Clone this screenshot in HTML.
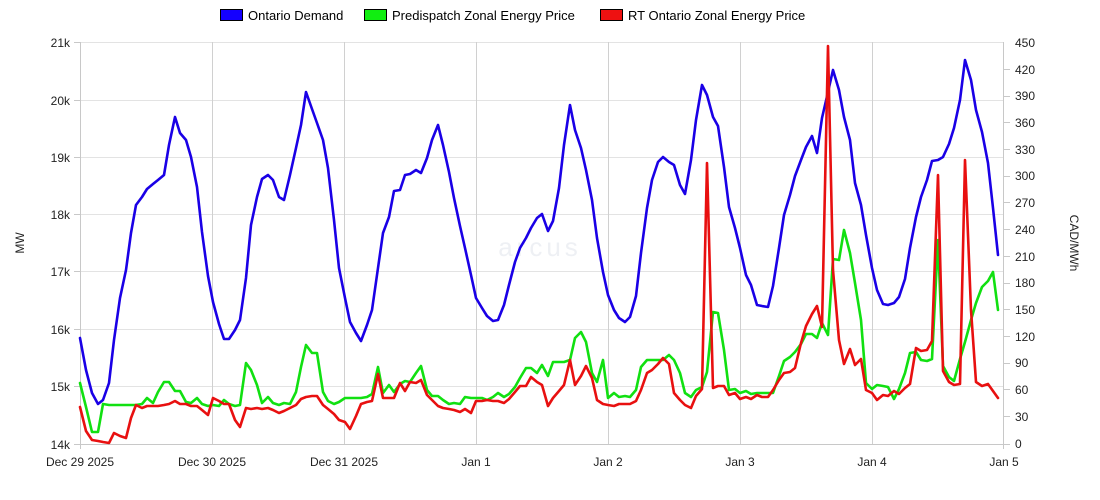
<!DOCTYPE html>
<html><head><meta charset="utf-8"><style>
html,body{margin:0;padding:0;background:#fff;}
svg{display:block;font-family:"Liberation Sans",Arial,sans-serif;}
</style></head><body>
<svg width="1100" height="500" viewBox="0 0 1100 500" xmlns="http://www.w3.org/2000/svg">
<rect width="1100" height="500" fill="#fff"/>
<!-- legend -->
<rect x="220.5" y="9.5" width="22" height="11" fill="#1400ff" stroke="#000" stroke-width="1"/>
<text x="248" y="20" font-size="13" fill="#000">Ontario Demand</text>
<rect x="364.5" y="9.5" width="22" height="11" fill="#11ee11" stroke="#000" stroke-width="1"/>
<text x="392" y="20" font-size="13" fill="#000">Predispatch Zonal Energy Price</text>
<rect x="600.5" y="9.5" width="22" height="11" fill="#ee1111" stroke="#000" stroke-width="1"/>
<text x="628" y="20" font-size="13" fill="#000">RT Ontario Zonal Energy Price</text>
<!-- grid -->
<g stroke="#e3e3e3" stroke-width="1">
<line x1="80" x2="1004" y1="42.5" y2="42.5"/>
<line x1="80" x2="1004" y1="100.5" y2="100.5"/>
<line x1="80" x2="1004" y1="157.5" y2="157.5"/>
<line x1="80" x2="1004" y1="214.5" y2="214.5"/>
<line x1="80" x2="1004" y1="271.5" y2="271.5"/>
<line x1="80" x2="1004" y1="329.5" y2="329.5"/>
<line x1="80" x2="1004" y1="386.5" y2="386.5"/>
</g>
<g stroke="#d0d0d0" stroke-width="1">
<line x1="212.5" x2="212.5" y1="42" y2="444"/>
<line x1="344.5" x2="344.5" y1="42" y2="444"/>
<line x1="476.5" x2="476.5" y1="42" y2="444"/>
<line x1="608.5" x2="608.5" y1="42" y2="444"/>
<line x1="740.5" x2="740.5" y1="42" y2="444"/>
<line x1="872.5" x2="872.5" y1="42" y2="444"/>
</g>
<!-- axes -->
<g stroke="#c8c8c8" stroke-width="1">
<line x1="80.5" x2="80.5" y1="42" y2="449"/>
<line x1="1003.5" x2="1003.5" y1="42" y2="449"/>
<line x1="74" x2="1010" y1="444.5" y2="444.5"/>
<line x1="74" x2="80" y1="42.5" y2="42.5"/><line x1="74" x2="80" y1="100.5" y2="100.5"/><line x1="74" x2="80" y1="157.5" y2="157.5"/><line x1="74" x2="80" y1="214.5" y2="214.5"/><line x1="74" x2="80" y1="271.5" y2="271.5"/><line x1="74" x2="80" y1="329.5" y2="329.5"/><line x1="74" x2="80" y1="386.5" y2="386.5"/>
</g>
<g font-size="12" fill="#222" text-anchor="end">
<text x="70" y="47">21k</text><text x="70" y="105">20k</text><text x="70" y="162">19k</text><text x="70" y="219">18k</text><text x="70" y="276">17k</text><text x="70" y="334">16k</text><text x="70" y="391">15k</text><text x="70" y="449">14k</text>
</g>
<g font-size="12" fill="#222">
<text x="1015" y="47">450</text><text x="1015" y="74">420</text><text x="1015" y="100">390</text><text x="1015" y="127">360</text><text x="1015" y="154">330</text><text x="1015" y="180">300</text><text x="1015" y="207">270</text><text x="1015" y="234">240</text><text x="1015" y="261">210</text><text x="1015" y="287">180</text><text x="1015" y="314">150</text><text x="1015" y="341">120</text><text x="1015" y="367">90</text><text x="1015" y="394">60</text><text x="1015" y="421">30</text><text x="1015" y="448">0</text>
</g>
<g stroke="#c8c8c8"><line x1="1004" x2="1010" y1="69.5" y2="69.5"/><line x1="1004" x2="1010" y1="96.5" y2="96.5"/><line x1="1004" x2="1010" y1="122.5" y2="122.5"/><line x1="1004" x2="1010" y1="149.5" y2="149.5"/><line x1="1004" x2="1010" y1="176.5" y2="176.5"/><line x1="1004" x2="1010" y1="202.5" y2="202.5"/><line x1="1004" x2="1010" y1="229.5" y2="229.5"/><line x1="1004" x2="1010" y1="256.5" y2="256.5"/><line x1="1004" x2="1010" y1="283.5" y2="283.5"/><line x1="1004" x2="1010" y1="309.5" y2="309.5"/><line x1="1004" x2="1010" y1="336.5" y2="336.5"/><line x1="1004" x2="1010" y1="363.5" y2="363.5"/><line x1="1004" x2="1010" y1="389.5" y2="389.5"/><line x1="1004" x2="1010" y1="416.5" y2="416.5"/></g>
<g font-size="12" fill="#222" text-anchor="middle">
<text x="80" y="466">Dec 29 2025</text><text x="212" y="466">Dec 30 2025</text><text x="344" y="466">Dec 31 2025</text><text x="476" y="466">Jan 1</text><text x="608" y="466">Jan 2</text><text x="740" y="466">Jan 3</text><text x="872" y="466">Jan 4</text><text x="1004" y="466">Jan 5</text>
</g>
<text transform="translate(24,243) rotate(-90)" font-size="12" fill="#222" text-anchor="middle">MW</text>
<text transform="translate(1070,243) rotate(90)" font-size="12" fill="#222" text-anchor="middle">CAD/MWh</text>
<text x="540" y="256" font-size="26" fill="#eef0f4" text-anchor="middle" letter-spacing="4">arcus</text>
<g fill="none" stroke-width="2.6" stroke-linejoin="round" stroke-linecap="round">
<polyline stroke="#1a00e6" points="80,338 86,370 92,393 98,404 103,400 109,383 114,340 120,298 126,270 131,233 136,205 142,197 147,189 153,184 158,180 164,175 169,145 175,117 180,133 186,140 191,157 197,187 202,232 208,276 213,302 219,324 224,339 229,339 235,330 240,320 246,278 251,225 257,197 262,179 268,175 273,180 279,197 284,200 290,175 296,148 301,125 306,92 312,109 317,123 323,140 328,168 334,220 339,268 345,298 350,322 356,333 361,341 367,325 372,310 378,268 383,233 389,217 394,191 400,190 405,175 410,174 416,170 421,173 427,158 432,140 438,125 443,145 449,172 454,198 460,226 465,248 471,275 476,298 482,308 487,316 493,321 498,320 504,305 509,285 515,262 520,248 526,238 531,228 537,218 542,214 548,231 553,221 559,188 564,145 570,105 575,130 581,148 586,170 592,200 597,238 603,272 608,295 614,310 619,318 625,322 630,317 636,296 641,253 647,208 652,180 658,162 663,157 669,162 674,165 680,185 685,194 691,160 696,120 702,85 707,95 713,117 718,126 724,167 729,207 735,228 740,248 746,275 751,285 757,305 762,306 768,307 773,286 779,248 784,215 790,195 795,176 801,160 806,147 812,136 817,153 822,118 828,92 833,70 839,90 844,117 850,140 855,183 861,205 866,235 872,268 877,290 883,304 888,305 894,303 899,297 905,279 910,248 916,217 921,197 927,180 932,161 938,160 943,157 949,144 954,128 960,100 965,60 971,80 976,110 982,132 988,163 993,208 998,255"/>
<polyline stroke="#11e011" points="80,383 86,407 92,432 98,432 103,404 109,405 114,405 120,405 126,405 131,405 136,405 142,404 147,398 153,403 158,392 164,382 169,382 175,391 180,391 186,402 191,403 197,398 202,404 208,406 213,405 219,406 224,400 229,404 235,406 240,405 246,363 251,370 257,385 262,403 268,397 273,403 279,405 284,403 290,404 296,392 301,367 306,345 312,353 317,353 323,392 328,401 334,404 339,402 345,398 350,398 356,398 361,398 367,397 372,394 378,367 383,393 389,385 394,392 400,384 405,381 410,382 416,373 421,366 427,390 432,396 438,396 443,400 449,404 454,403 460,404 465,397 471,398 476,398 482,398 487,400 493,397 498,393 504,397 509,394 515,387 520,378 526,368 531,368 537,373 542,365 548,376 553,362 559,362 564,362 570,360 575,338 581,332 586,342 592,373 597,382 603,360 608,398 614,393 619,397 625,396 630,397 636,390 641,367 647,360 652,360 658,360 663,360 669,355 674,360 680,373 685,393 691,397 696,390 702,387 707,372 713,312 718,313 724,350 729,390 735,389 740,393 746,391 751,394 757,393 762,393 768,393 773,393 779,376 784,361 790,357 795,352 801,344 806,334 812,334 817,338 822,323 828,335 833,259 839,260 844,230 850,253 855,283 861,320 866,383 872,389 877,385 883,386 888,387 894,399 899,389 905,373 910,353 916,352 921,360 927,361 932,359 938,240 943,366 949,377 954,381 960,359 965,342 971,320 976,303 982,287 988,281 993,272 998,310"/>
<polyline stroke="#e81010" points="80,407 86,431 92,440 98,441 103,442 109,443 114,433 120,436 126,438 131,418 136,405 142,408 147,406 153,406 158,406 164,405 169,404 175,401 180,404 186,404 191,406 197,406 202,410 208,415 213,398 219,401 224,404 229,404 235,420 240,427 246,408 251,409 257,408 262,409 268,408 273,410 279,413 284,411 290,408 296,405 301,399 306,397 312,396 317,396 323,405 328,409 334,414 339,420 345,422 350,429 356,416 361,404 367,402 372,401 378,374 383,398 389,398 394,398 400,383 405,391 410,382 416,383 421,380 427,395 432,400 438,406 443,408 449,409 454,410 460,412 465,409 471,413 476,401 482,401 487,400 493,401 498,401 504,403 509,399 515,392 520,386 526,386 531,377 537,382 542,385 548,406 553,398 559,391 564,385 570,360 575,385 581,376 586,366 592,378 597,400 603,404 608,405 614,406 619,404 625,404 630,404 636,401 641,390 647,373 652,370 658,364 663,358 669,364 674,393 680,400 685,405 691,408 696,396 702,389 707,163 713,388 718,386 724,386 729,395 735,393 740,399 746,397 751,399 757,395 762,397 768,397 773,390 779,380 784,373 790,372 795,368 801,343 806,326 812,314 817,306 822,327 828,46 833,270 839,340 844,364 850,349 855,365 861,359 866,390 872,393 877,400 883,395 888,396 894,391 899,394 905,388 910,384 916,348 921,351 927,350 932,341 938,175 943,371 949,382 954,385 960,384 965,160 971,310 976,382 982,386 988,384 993,391 998,398"/>
</g>
</svg>
</body></html>
